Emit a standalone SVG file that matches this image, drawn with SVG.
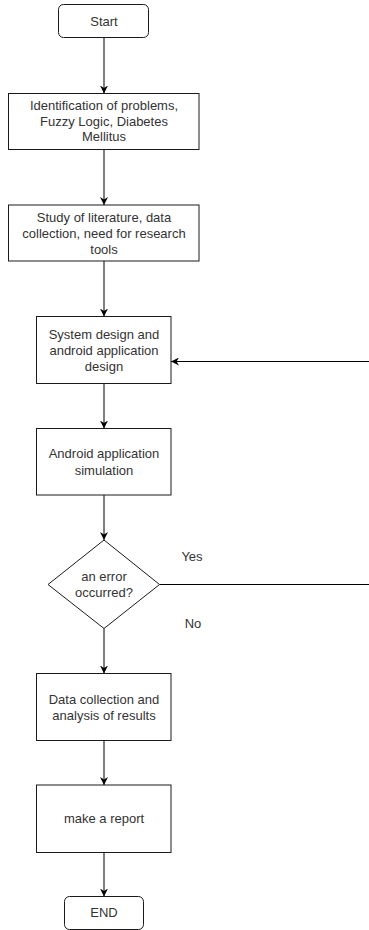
<svg xmlns="http://www.w3.org/2000/svg" width="369" height="930" viewBox="0 0 369 930">
  <style>
    .box { fill: #ffffff; stroke: #1a1a1a; stroke-width: 1; }
    .lbl { font-family: "Liberation Sans", Arial, sans-serif; font-size: 13px; fill: #333333; text-anchor: middle; dominant-baseline: central; }
    .edge { fill: none; stroke: #000000; stroke-width: 1; marker-end: url(#arrow); }
    .plain { fill: none; stroke: #000000; stroke-width: 1; }
  </style>
  <defs>
    <marker id="arrow" viewBox="0 0 10 10" refX="10" refY="5" markerWidth="8" markerHeight="8" markerUnits="userSpaceOnUse" orient="auto">
      <path d="M0,0 L10,5 L0,10 L3,5 Z" fill="#000000"/>
    </marker>
  </defs>
  <rect width="369" height="930" fill="#ffffff"/>

  <!-- connectors -->
  <g id="connectors">
    <line class="edge" x1="104" y1="38" x2="104" y2="93.5"/>
    <line class="edge" x1="104" y1="149.5" x2="104" y2="205"/>
    <line class="edge" x1="104" y1="261" x2="104" y2="316.5"/>
    <line class="edge" x1="104" y1="383.5" x2="104" y2="428.5"/>
    <line class="edge" x1="104" y1="495" x2="104" y2="540"/>
    <line class="edge" x1="104" y1="628.5" x2="104" y2="673.5"/>
    <line class="edge" x1="104" y1="740.5" x2="104" y2="785"/>
    <line class="edge" x1="104" y1="852.5" x2="104" y2="896.5"/>
    <!-- loop back from the decision -->
    <line class="plain" x1="159.5" y1="584.5" x2="369" y2="584.5"/>
    <line class="edge" x1="369" y1="361.5" x2="171" y2="361.5"/>
    <text class="lbl" x="192" y="556">Yes</text>
    <text class="lbl" x="193" y="623">No</text>
  </g>

  <g id="start">
    <rect class="box" x="58.5" y="4.5" width="90" height="33" rx="5"/>
    <text class="lbl" x="104" y="21">Start</text>
  </g>

  <g id="identification">
    <rect class="box" x="8.5" y="93.5" width="190.5" height="56"/>
    <text class="lbl" x="104" y="105.5">Identification of problems,</text>
    <text class="lbl" x="104" y="121">Fuzzy Logic, Diabetes</text>
    <text class="lbl" x="104" y="136.5">Mellitus</text>
  </g>

  <g id="literature">
    <rect class="box" x="8.5" y="205" width="190.5" height="56"/>
    <text class="lbl" x="104" y="217.5">Study of literature, data</text>
    <text class="lbl" x="104" y="233">collection, need for research</text>
    <text class="lbl" x="104" y="249.5">tools</text>
  </g>

  <g id="system-design">
    <rect class="box" x="36.5" y="316.5" width="134.5" height="67"/>
    <text class="lbl" x="104" y="334">System design and</text>
    <text class="lbl" x="104" y="350">android application</text>
    <text class="lbl" x="104" y="366">design</text>
  </g>

  <g id="simulation">
    <rect class="box" x="36.5" y="428.5" width="134.5" height="66.5"/>
    <text class="lbl" x="104" y="453.5">Android application</text>
    <text class="lbl" x="104" y="470">simulation</text>
  </g>

  <g id="decision">
    <polygon class="box" points="104,540 159.5,584.5 104,628.5 48,584.5"/>
    <text class="lbl" x="104" y="576">an error</text>
    <text class="lbl" x="104" y="592.5">occurred?</text>
  </g>

  <g id="analysis">
    <rect class="box" x="36.5" y="673.5" width="134.5" height="67"/>
    <text class="lbl" x="104" y="699">Data collection and</text>
    <text class="lbl" x="104" y="715.5">analysis of results</text>
  </g>

  <g id="report">
    <rect class="box" x="36.5" y="785" width="134.5" height="67.5"/>
    <text class="lbl" x="104" y="818.5">make a report</text>
  </g>

  <g id="end">
    <rect class="box" x="64.5" y="896.5" width="79" height="33" rx="5"/>
    <text class="lbl" x="104" y="912.5">END</text>
  </g>
</svg>
